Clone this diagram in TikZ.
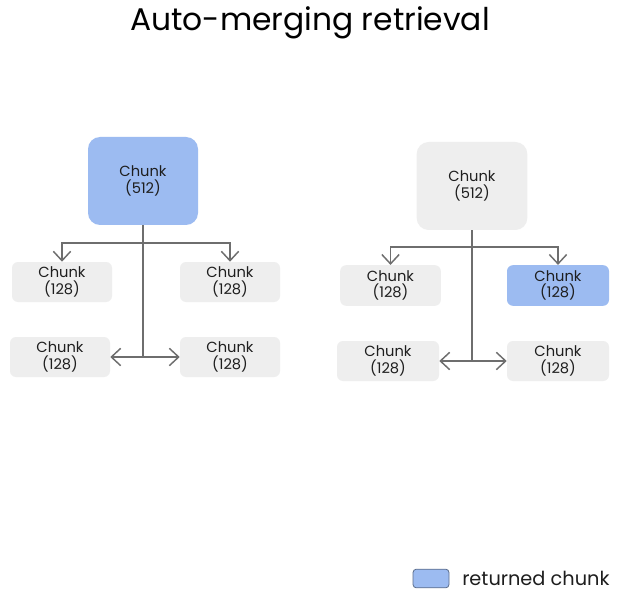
\documentclass[tikz,border=0pt]{standalone}
\usepackage{fontspec}
\setmainfont{Poppins}
\usetikzlibrary{arrows.meta}
\definecolor{chunkblue}{HTML}{9CBBF1}
\definecolor{chunkgray}{HTML}{EEEEEE}
\definecolor{linegray}{HTML}{6E6E6E}
\definecolor{txt}{HTML}{1E1E1E}
\definecolor{legendedge}{HTML}{5C6E8C}
\tikzset{
  chunkbox/.style={rounded corners=4.5pt, inner sep=0pt, text=txt,
    font=\fontsize{11}{12.5}\selectfont, align=center},
  bigbox/.style={rounded corners=9pt, inner sep=0pt, text=txt,
    font=\fontsize{11}{12.5}\selectfont, align=center},
  conn/.style={draw=linegray, line width=1.1pt},
  arr/.style={conn, -{Straight Barb[length=7pt,width=13pt,line width=1.1pt]}},
}
\begin{document}
\begin{tikzpicture}[x=0.75pt,y=-0.75pt]
\useasboundingbox (0,0) rectangle (617,602);
\fill[white] (0,0) rectangle (617,602);
\node[font=\fontsize{23.5}{28}\selectfont, text=black] (title) at (310,23) {Auto-merging retrieval};

% left tree
\node[bigbox, fill=chunkblue, minimum width=82.5pt, minimum height=66pt] (L) at (143,181) {Chunk\\(512)};
\node[chunkbox, fill=chunkgray, minimum width=75pt, minimum height=30pt] (L1) at (62,282) {Chunk\\(128)};
\node[chunkbox, fill=chunkgray, minimum width=75pt, minimum height=30pt] (L2) at (230,282) {Chunk\\(128)};
\node[chunkbox, fill=chunkgray, minimum width=75pt, minimum height=30pt] (L3) at (60,357) {Chunk\\(128)};
\node[chunkbox, fill=chunkgray, minimum width=75pt, minimum height=30pt] (L4) at (230,357) {Chunk\\(128)};
\coordinate (Lh) at (143,243);
\coordinate (Lb) at (143,357);
\draw[conn] (L.south) -- (Lb);
\draw[arr] (Lh) -| (L1.north);
\draw[arr] (Lh) -| (L2.north);
\draw[arr] (Lb) -- (L3.east);
\draw[arr] (Lb) -- (L4.west);

% right tree
\node[bigbox, fill=chunkgray, minimum width=83pt, minimum height=66pt] (R) at (472,186) {Chunk\\(512)};
\node[chunkbox, fill=chunkgray, minimum width=75.5pt, minimum height=30.5pt] (R1) at (390.5,285.5) {Chunk\\(128)};
\node[chunkbox, fill=chunkblue, minimum width=76.5pt, minimum height=30.5pt] (R2) at (558,285.5) {Chunk\\(128)};
\node[chunkbox, fill=chunkgray, minimum width=76.5pt, minimum height=30pt] (R3) at (388,361) {Chunk\\(128)};
\node[chunkbox, fill=chunkgray, minimum width=76.5pt, minimum height=30pt] (R4) at (558,361) {Chunk\\(128)};
\coordinate (Rh) at (472,247);
\coordinate (Rb) at (472,361);
\draw[conn] (R.south) -- (Rb);
\draw[arr] (Rh) -| (R1.north);
\draw[arr] (Rh) -| (R2.north);
\draw[arr] (Rb) -- (R3.east);
\draw[arr] (Rb) -- (R4.west);

% legend
\node[draw=legendedge, line width=0.6pt, fill=chunkblue, rounded corners=2.5pt, minimum width=27pt, minimum height=14pt, inner sep=0pt] (leg) at (431,578.5) {};
\node[anchor=west, inner sep=0pt, text=txt, font=\fontsize{14.5}{16}\selectfont] (legt) at (462,578) {returned chunk};
\end{tikzpicture}
\end{document}
